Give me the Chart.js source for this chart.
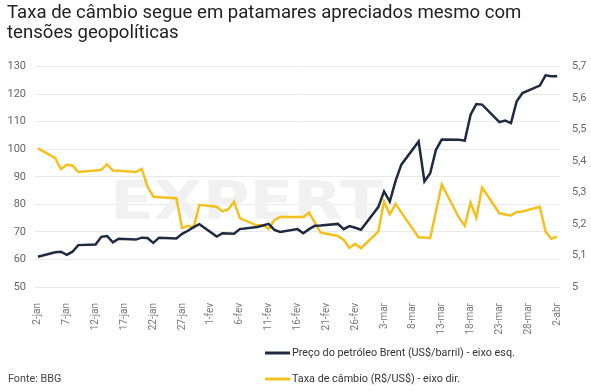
<!DOCTYPE html>
<html>
<head>
<meta charset="utf-8">
<script src="https://cdn.jsdelivr.net/npm/chart.js@4"></script>
<style>
  body { margin: 0; background: #fff; }
  #wrap { width: 591px; height: 392px; }
</style>
</head>
<body>
<div id="wrap"><canvas id="chart" width="591" height="392"></canvas></div>
<script>
// dias corridos de 2-jan a 2-abr (fins de semana = null)
const months = [['jan', 2, 31], ['fev', 1, 28], ['mar', 1, 31], ['abr', 1, 2]];
const labels = [];
months.forEach(([m, from, to]) => {
    for (let d = from; d <= to; d++) labels.push(d + '-' + m);
});

// Brent (US$/barril) - eixo esq.
const brent = [
    61.0, null, null,
    62.6, 62.8, 61.7, 62.8, 65.2, null, null,
    65.4, 68.2, 68.5, 66.2, 67.5, null, null,
    67.2, 67.9, 67.8, 66.0, 67.9, null, null,
    67.6, 69.3, 70.4, 71.7, 72.8, null, null,
    68.3, 69.5, 69.4, 69.3, 71.0, null, null,
    71.8, 72.3, 72.9, 70.7, 70.0, null, null,
    71.0, 69.5, 71.0, 72.2, 72.3, null, null,
    72.9, 71.0, 72.1, 71.5, 70.8, null, null,
    79.0, 84.7, 81.0, 88.5, 94.4, null, null,
    102.8, 88.3, 91.3, 99.8, 103.5, null, null,
    103.4, 103.1, 112.5, 116.4, 116.2, null, null,
    109.8, 110.4, 109.5, 117.4, 120.4, null, null,
    123.1, 126.8, 126.5, 126.5
];

// Taxa de câmbio (R$/US$) - eixo dir.
const cambio = [
    5.440, null, null,
    5.410, 5.374, 5.388, 5.386, 5.365, null, null,
    5.370, 5.372, 5.390, 5.370, 5.369, null, null,
    5.365, 5.375, 5.319, 5.287, 5.285, null, null,
    5.282, 5.187, 5.194, 5.190, 5.261, null, null,
    5.255, 5.240, 5.247, 5.271, 5.219, null, null,
    5.195, 5.197, 5.184, 5.213, 5.222, null, null,
    5.222, 5.222, 5.236, 5.205, 5.173, null, null,
    5.162, 5.150, 5.124, 5.137, 5.123, null, null,
    5.176, 5.271, 5.231, 5.264, 5.237, null, null,
    5.157, 5.157, 5.155, 5.240, 5.325, null, null,
    5.220, 5.194, 5.268, 5.220, 5.316, null, null,
    5.234, 5.230, 5.227, 5.238, 5.240, null, null,
    5.255, 5.176, 5.153, 5.160
];

const leftTicks = { min: 50, max: 130, step: 10 };
const rightTicks = { min: 5, max: 5.7, step: 0.1 };

const FONT = 'Roboto';
const BLUE = '#1e2a40';
const YELLOW = '#f3c01d';

// marca d'água
const watermark = {
    id: 'watermark',
    beforeDatasetsDraw(chart) {
        const ctx = chart.ctx;
        ctx.save();
        ctx.font = 'bold 54px "DejaVu Sans"';
        ctx.fillStyle = '#f1f1f1';
        ctx.textBaseline = 'alphabetic';
        const text = 'EXPERT';
        const w = ctx.measureText(text).width;
        ctx.translate(110, 219);
        ctx.scale(273 / w, 1);
        ctx.fillText(text, 0, 0);
        ctx.restore();
    }
};

// legenda empilhada + fonte
const footer = {
    id: 'footer',
    afterDraw(chart) {
        const ctx = chart.ctx;
        ctx.save();
        ctx.font = '10.8px ' + FONT;
        ctx.textBaseline = 'middle';
        chart.data.datasets.forEach((ds, i) => {
            const y = 353 + i * 26;
            ctx.strokeStyle = ds.borderColor;
            ctx.lineWidth = 3;
            ctx.beginPath();
            ctx.moveTo(265, y);
            ctx.lineTo(290, y);
            ctx.stroke();
            ctx.fillStyle = '#333';
            ctx.fillText(ds.label, 292, y);
        });
        ctx.fillStyle = '#444';
        ctx.fillText('Fonte: BBG', 8, 379);
        ctx.restore();
    }
};

new Chart(document.getElementById('chart'), {
    type: 'line',
    data: {
        labels: labels,
        datasets: [
            {
                label: 'Preço do petróleo Brent (US$/barril) - eixo esq.',
                data: brent,
                yAxisID: 'y',
                borderColor: BLUE,
                backgroundColor: BLUE,
                borderWidth: 2.5,
                pointRadius: 0,
                spanGaps: true,
                tension: 0
            },
            {
                label: 'Taxa de câmbio (R$/US$) - eixo dir.',
                data: cambio,
                yAxisID: 'y1',
                borderColor: YELLOW,
                backgroundColor: YELLOW,
                borderWidth: 2.5,
                pointRadius: 0,
                spanGaps: true,
                tension: 0
            }
        ]
    },
    options: {
        responsive: false,
        animation: false,
        devicePixelRatio: 1,
        layout: { padding: { left: 7, right: 0, top: 0, bottom: 55 } },
        plugins: {
            legend: { display: false },
            tooltip: { enabled: false },
            title: {
                display: true,
                text: ['Taxa de câmbio segue em patamares apreciados mesmo com', 'tensões geopolíticas'],
                align: 'start',
                color: '#222',
                font: { family: FONT, size: 18.6, weight: 'normal', lineHeight: 1.09 },
                padding: { top: 3, bottom: 23 }
            }
        },
        scales: {
            x: {
                offset: true,
                grid: { display: false },
                border: { display: false },
                afterFit: s => { s.height = 50; },
                ticks: {
                    autoSkip: false,
                    minRotation: 90,
                    maxRotation: 90,
                    padding: 8,
                    color: '#777',
                    font: { family: FONT, size: 10 },
                    callback: (v, i) => (i % 5 === 0 ? labels[i] : null)
                }
            },
            y: {
                position: 'left',
                min: leftTicks.min,
                max: leftTicks.max,
                grid: { color: '#e9e9e9', drawTicks: false },
                border: { display: false },
                afterFit: s => { s.width = 28; },
                ticks: {
                    stepSize: leftTicks.step,
                    padding: 9,
                    color: '#666',
                    font: { family: FONT, size: 11 }
                }
            },
            y1: {
                position: 'right',
                min: rightTicks.min,
                max: rightTicks.max,
                grid: { display: false, drawTicks: false },
                border: { display: false },
                afterFit: s => { s.width = 31; },
                ticks: {
                    stepSize: rightTicks.step,
                    padding: 12,
                    color: '#666',
                    font: { family: FONT, size: 11 },
                    callback: v => Number(v.toFixed(1)).toString().replace('.', ',')
                }
            }
        }
    },
    plugins: [watermark, footer]
});
</script>
</body>
</html>
